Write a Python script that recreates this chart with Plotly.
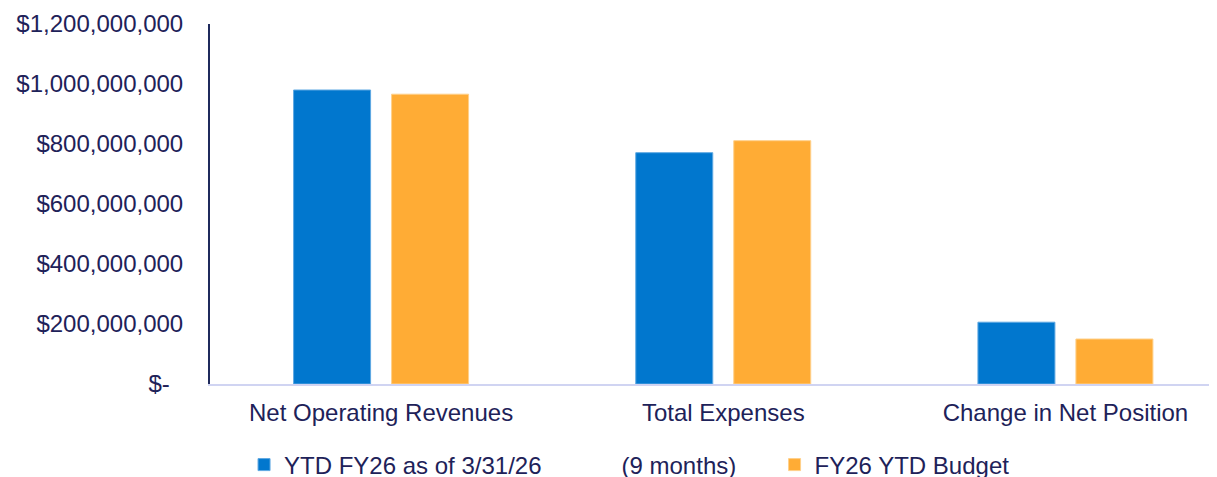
import plotly.graph_objects as go

categories = ["Net Operating Revenues", "Total Expenses", "Change in Net Position"]
actual_name = "YTD FY26 as of 3/31/26" + "\u00a0" * 12 + "(9 months)" + "\u00a0" * 5
budget_name = "FY26 YTD Budget"
actual_values = [980_000_000, 771_000_000, 206_000_000]
budget_values = [966_000_000, 811_000_000, 150_000_000]
y_ticks = [0, 200_000_000, 400_000_000, 600_000_000, 800_000_000, 1_000_000_000, 1_200_000_000]


def money(v):
    return "$-\u00a0\u00a0" if v == 0 else "${:,.0f}".format(v)


y_tick_text = [money(v) for v in y_ticks]

BLUE = "#0177CE"
ORANGE = "#FFAC35"
NAVY = "#1e2259"
FONT = "Liberation Sans, Arial, sans-serif"

x_pos = list(range(len(categories)))

fig = go.Figure()
fig.add_trace(go.Bar(
    x=x_pos, y=actual_values, name=actual_name,
    marker=dict(color=BLUE, line=dict(color="#5ea8e2", width=1)),
    width=0.225, offset=-0.2557,
))
fig.add_trace(go.Bar(
    x=x_pos, y=budget_values, name=budget_name,
    marker=dict(color=ORANGE, line=dict(color="#ffd08a", width=1)),
    width=0.225, offset=0.0307,
))

fig.update_layout(
    width=1217, height=477,
    margin=dict(l=202, r=8, t=16, b=101, autoexpand=False),
    paper_bgcolor="white", plot_bgcolor="white",
    barmode="overlay",
    font=dict(family=FONT, size=24, color=NAVY),
    showlegend=True,
    legend=dict(
        orientation="h", x=0.0338, xanchor="left", y=-0.225, yanchor="middle",
        font=dict(family=FONT, size=24, color=NAVY),
        bgcolor="rgba(0,0,0,0)", itemwidth=30, traceorder="normal",
    ),
    xaxis=dict(
        range=[-0.5, 2.443], tickvals=x_pos, ticktext=categories,
        showgrid=False, zeroline=False, showline=True,
        linecolor="#d0d4f2", linewidth=2, ticks="", automargin=False,
        tickfont=dict(family=FONT, size=24, color=NAVY),
        ticklabelstandoff=6,
    ),
    yaxis=dict(
        range=[0, 1_200_000_000], tickvals=y_ticks, ticktext=y_tick_text,
        showgrid=False, zeroline=False, showline=True,
        linecolor="#1f2a5c", linewidth=2, ticks="", automargin=False,
        tickfont=dict(family=FONT, size=24, color=NAVY),
        ticklabelstandoff=20,
    ),
)

fig.write_html("out.html")
